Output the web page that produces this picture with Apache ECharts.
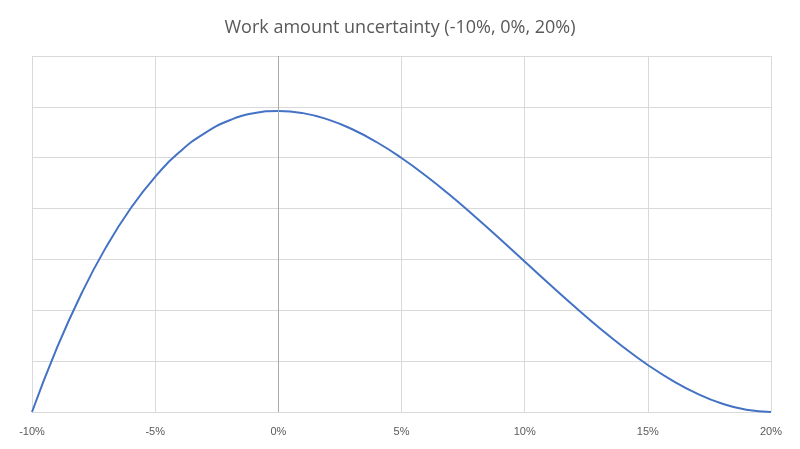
<!DOCTYPE html>
<html>
<head>
<meta charset="utf-8">
<script src="https://cdn.jsdelivr.net/npm/echarts@6/dist/echarts.min.js"></script>
<style>html,body,#main{width:100%;height:100%;margin:0;padding:0;background:#fff;}</style>
</head>
<body>
<div id="main"></div>
<script>
var xs = [-10,-9,-8,-7,-6,-5,-4,-3,-2,-1,0,1,2,3,4,5,6,7,8,9,10,11,12,13,14,15,16,17,18,19,20];
var ys = [0,1.245,2.321,3.237,4.002,4.625,5.115,5.480,5.731,5.874,5.92,5.877,5.754,5.560,5.304,4.995,4.641,4.252,3.836,3.403,2.96,2.517,2.084,1.668,1.279,0.925,0.616,0.360,0.166,0.043,0];

var chart = echarts.init(document.getElementById('main'));
chart.setOption({
    animation: false,
    title: {
        text: 'Work amount uncertainty (-10%, 0%, 20%)',
        left: 'center', top: 14,
        textStyle: {color: '#595959', fontSize: 18, fontWeight: 'normal', fontFamily: 'Open Sans'}
    },
    grid: {left: 32, right: 29, top: 56, bottom: 37},
    xAxis: {
        type: 'value', min: -10, max: 20, interval: 5,
        axisLine: {show: false}, axisTick: {show: false},
        axisLabel: {formatter: '{value}%', color: '#595959', fontSize: 11, margin: 14},
        splitLine: {lineStyle: {color: '#d9d9d9'}}
    },
    yAxis: {
        type: 'value', min: 0, max: 7, interval: 1,
        axisLine: {show: false}, axisTick: {show: false}, axisLabel: {show: false},
        splitLine: {lineStyle: {color: '#d9d9d9'}}
    },
    series: [{
        type: 'line', smooth: true, showSymbol: false,
        data: xs.map(function (x, i) { return [x, ys[i]]; }),
        lineStyle: {color: '#4472C4', width: 2},
        markLine: {
            silent: true, symbol: 'none', label: {show: false},
            lineStyle: {color: '#aaaaaa', type: 'solid', width: 1},
            data: [{xAxis: 0}]
        }
    }]
});
</script>
</body>
</html>
